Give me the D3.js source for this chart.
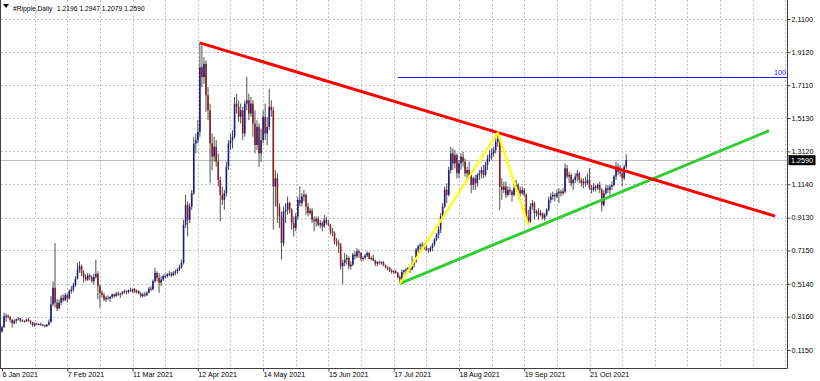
<!DOCTYPE html>
<html lang="en">
<head>
<meta charset="UTF-8">
<title>#Ripple,Daily</title>
<script src="https://d3js.org/d3.v7.min.js"></script>
<style>
  body { margin: 0; background: #fff; }
  svg text { font-family: "Liberation Sans", Arial, sans-serif; font-size: 7.2px; }
  svg text.title { font-size: 6.7px; }
</style>
</head>
<body>
<svg id="chart" width="820" height="381"></svg>
<script>
// daily bars, [open, high, low, close], first bar = 6 Jan 2021
const startDate = "2021-01-06";
const jan = [
  [0.226,0.260,0.220,0.252],[0.252,0.340,0.248,0.318],[0.318,0.335,0.285,0.322],[0.322,0.330,0.305,0.313],
  [0.313,0.320,0.280,0.298],[0.298,0.300,0.250,0.276],[0.276,0.300,0.270,0.291],[0.291,0.305,0.275,0.300],
  [0.300,0.312,0.292,0.305],[0.305,0.308,0.282,0.292],[0.292,0.300,0.285,0.290],[0.290,0.295,0.280,0.288],
  [0.288,0.305,0.285,0.298],[0.298,0.310,0.285,0.290],[0.290,0.295,0.270,0.282],[0.282,0.285,0.255,0.265],
  [0.265,0.280,0.255,0.275],[0.275,0.280,0.265,0.270],[0.270,0.275,0.265,0.272],[0.272,0.280,0.262,0.268],
  [0.268,0.272,0.258,0.265],[0.265,0.268,0.250,0.258],[0.258,0.272,0.255,0.268],[0.268,0.300,0.262,0.285],
  [0.285,0.440,0.280,0.390],[0.390,0.530,0.380,0.490]
];
const feb = [
  [0.490,0.760,0.370,0.400],[0.400,0.420,0.350,0.365],[0.365,0.420,0.360,0.400],[0.400,0.445,0.385,0.430],
  [0.430,0.450,0.405,0.415],[0.415,0.460,0.410,0.445],[0.445,0.455,0.400,0.425],[0.425,0.480,0.420,0.470],
  [0.470,0.500,0.455,0.480],[0.480,0.520,0.465,0.505],[0.505,0.560,0.495,0.545],[0.545,0.640,0.540,0.600],
  [0.600,0.650,0.580,0.620],[0.620,0.630,0.560,0.580],[0.580,0.595,0.520,0.555],[0.555,0.570,0.530,0.540],
  [0.540,0.580,0.530,0.565],[0.565,0.575,0.535,0.555],[0.555,0.565,0.520,0.530],[0.530,0.575,0.510,0.555],
  [0.555,0.660,0.545,0.575],[0.575,0.590,0.420,0.500],[0.500,0.510,0.370,0.460],[0.460,0.475,0.430,0.445],
  [0.445,0.460,0.410,0.420],[0.420,0.440,0.405,0.430],[0.430,0.445,0.420,0.425],[0.425,0.440,0.405,0.435]
];
const mar = [
  [0.435,0.455,0.425,0.450],[0.450,0.455,0.430,0.440],[0.440,0.465,0.435,0.455],[0.455,0.470,0.440,0.450],
  [0.450,0.460,0.430,0.455],[0.455,0.470,0.445,0.465],[0.465,0.480,0.455,0.470],[0.470,0.475,0.450,0.465],
  [0.465,0.480,0.455,0.475],[0.475,0.490,0.465,0.470],[0.470,0.485,0.460,0.480],[0.480,0.490,0.460,0.465],
  [0.465,0.480,0.455,0.470],[0.470,0.475,0.450,0.455],[0.455,0.465,0.430,0.440],[0.440,0.460,0.430,0.450],
  [0.450,0.465,0.435,0.445],[0.445,0.470,0.440,0.460],[0.460,0.495,0.455,0.485],[0.485,0.500,0.470,0.480],
  [0.480,0.540,0.475,0.530],[0.530,0.610,0.520,0.580],[0.580,0.590,0.530,0.550],[0.550,0.580,0.460,0.520],
  [0.520,0.560,0.500,0.540],[0.540,0.570,0.530,0.560],[0.560,0.575,0.545,0.560],[0.560,0.580,0.550,0.570],
  [0.570,0.590,0.560,0.575],[0.575,0.585,0.555,0.565],[0.565,0.590,0.560,0.580]
];
const apr = [
  [0.580,0.600,0.565,0.590],[0.590,0.610,0.575,0.600],[0.600,0.630,0.590,0.615],[0.615,0.660,0.605,0.640],
  [0.640,0.900,0.630,0.870],[0.870,1.050,0.850,0.990],[0.990,1.010,0.800,0.900],[0.900,1.000,0.880,0.980],
  [0.980,1.080,0.960,1.060],[1.060,1.400,1.050,1.360],[1.360,1.420,1.300,1.380],[1.380,1.500,1.360,1.430],
  [1.430,1.970,1.400,1.820],[1.820,1.950,1.700,1.760],[1.760,1.880,1.720,1.840],[1.840,1.860,1.550,1.650],
  [1.650,1.700,1.500,1.560],[1.560,1.600,1.120,1.360],[1.360,1.420,1.200,1.280],[1.280,1.400,1.250,1.340],
  [1.340,1.380,1.220,1.250],[1.250,1.300,1.100,1.140],[1.140,1.160,0.890,1.050],[1.050,1.100,0.990,1.020],
  [1.020,1.080,0.960,1.060],[1.060,1.250,1.040,1.220],[1.220,1.380,1.200,1.360],[1.360,1.420,1.320,1.380],
  [1.380,1.440,1.330,1.400],[1.400,1.640,1.390,1.600]
];
const may = [
  [1.600,1.660,1.540,1.580],[1.580,1.620,1.490,1.520],[1.520,1.600,1.480,1.560],[1.560,1.580,1.380,1.420],
  [1.420,1.620,1.400,1.600],[1.600,1.760,1.560,1.620],[1.620,1.660,1.500,1.540],[1.540,1.640,1.520,1.600],
  [1.600,1.620,1.400,1.480],[1.480,1.560,1.300,1.350],[1.350,1.500,1.320,1.460],[1.460,1.480,1.220,1.300],
  [1.300,1.450,1.250,1.380],[1.380,1.560,1.360,1.520],[1.520,1.600,1.380,1.420],[1.420,1.520,1.350,1.460],
  [1.460,1.690,1.440,1.580],[1.580,1.620,1.520,1.560],[1.560,1.580,0.840,1.100],[1.100,1.200,0.980,1.150],
  [1.150,1.180,0.880,0.980],[0.980,1.000,0.850,0.920],[0.920,0.950,0.660,0.760],[0.760,0.980,0.740,0.950],
  [0.950,1.000,0.880,0.960],[0.960,1.040,0.930,1.000],[1.000,1.010,0.940,0.960],[0.960,0.970,0.840,0.880],
  [0.880,0.920,0.800,0.850],[0.850,0.940,0.830,0.920],[0.920,1.040,0.900,1.020]
];
const jun = [
  [1.020,1.100,0.980,1.000],[1.000,1.060,0.980,1.040],[1.040,1.080,1.010,1.050],[1.050,1.060,0.930,0.980],
  [0.980,1.000,0.920,0.940],[0.940,0.970,0.930,0.955],[0.955,0.970,0.880,0.900],[0.900,0.920,0.830,0.890],
  [0.890,0.920,0.860,0.905],[0.905,0.920,0.860,0.870],[0.870,0.900,0.850,0.880],[0.880,0.890,0.830,0.860],
  [0.860,0.930,0.850,0.900],[0.900,0.920,0.870,0.880],[0.880,0.900,0.860,0.870],[0.870,0.875,0.810,0.830],
  [0.830,0.850,0.800,0.820],[0.820,0.830,0.750,0.770],[0.770,0.790,0.740,0.760],[0.760,0.780,0.700,0.750],
  [0.750,0.760,0.600,0.620],[0.620,0.660,0.510,0.640],[0.640,0.700,0.620,0.660],[0.660,0.690,0.630,0.670],
  [0.670,0.680,0.600,0.620],[0.620,0.650,0.600,0.630],[0.630,0.700,0.620,0.690],[0.690,0.710,0.660,0.680],
  [0.680,0.730,0.670,0.710],[0.710,0.720,0.670,0.700]
];
const jul = [
  [0.700,0.705,0.650,0.665],[0.665,0.680,0.650,0.670],[0.670,0.695,0.660,0.685],[0.685,0.710,0.675,0.700],
  [0.700,0.705,0.660,0.665],[0.665,0.680,0.655,0.670],[0.670,0.690,0.650,0.655],[0.655,0.660,0.620,0.635],
  [0.635,0.650,0.620,0.645],[0.645,0.655,0.630,0.640],[0.640,0.650,0.630,0.645],[0.645,0.650,0.620,0.625],
  [0.625,0.630,0.605,0.615],[0.615,0.620,0.595,0.610],[0.610,0.615,0.585,0.595],[0.595,0.605,0.575,0.585],
  [0.585,0.595,0.575,0.590],[0.590,0.600,0.575,0.580],[0.580,0.585,0.545,0.555],[0.555,0.565,0.515,0.540],
  [0.540,0.600,0.530,0.585],[0.585,0.600,0.570,0.595],[0.595,0.610,0.580,0.600],[0.600,0.615,0.590,0.610],
  [0.610,0.620,0.580,0.600],[0.600,0.680,0.595,0.630],[0.630,0.660,0.610,0.650],[0.650,0.730,0.640,0.720],
  [0.720,0.750,0.700,0.740],[0.740,0.760,0.710,0.750],[0.750,0.765,0.720,0.745]
];
const aug = [
  [0.745,0.760,0.720,0.735],[0.735,0.745,0.710,0.720],[0.720,0.730,0.700,0.715],[0.715,0.740,0.705,0.730],
  [0.730,0.760,0.710,0.750],[0.750,0.790,0.740,0.780],[0.780,0.820,0.770,0.810],[0.810,0.860,0.790,0.840],
  [0.840,0.940,0.820,0.920],[0.920,1.000,0.900,0.980],[0.980,1.100,0.970,1.080],[1.080,1.120,1.000,1.050],
  [1.050,1.220,1.040,1.200],[1.200,1.340,1.180,1.300],[1.300,1.330,1.200,1.240],[1.240,1.320,1.210,1.290],
  [1.290,1.300,1.150,1.180],[1.180,1.260,1.150,1.240],[1.240,1.300,1.200,1.280],[1.280,1.310,1.220,1.250],
  [1.250,1.270,1.160,1.180],[1.180,1.220,1.140,1.200],[1.200,1.250,1.160,1.170],[1.170,1.180,1.060,1.110],
  [1.110,1.160,1.080,1.150],[1.150,1.170,1.080,1.120],[1.120,1.180,1.100,1.170],[1.170,1.200,1.140,1.180],
  [1.180,1.220,1.150,1.200],[1.200,1.230,1.150,1.170],[1.170,1.250,1.160,1.230]
];
const sep = [
  [1.230,1.290,1.200,1.270],[1.270,1.320,1.250,1.290],[1.290,1.330,1.260,1.300],[1.300,1.340,1.280,1.320],
  [1.320,1.390,1.300,1.370],[1.370,1.420,1.340,1.390],[1.390,1.400,0.960,1.100],[1.100,1.150,1.020,1.080],
  [1.080,1.130,1.060,1.100],[1.100,1.130,1.030,1.050],[1.050,1.100,1.040,1.080],[1.080,1.100,1.050,1.070],
  [1.070,1.080,1.010,1.050],[1.050,1.120,1.040,1.090],[1.090,1.140,1.080,1.110],[1.110,1.120,1.060,1.080],
  [1.080,1.100,1.040,1.060],[1.060,1.100,1.050,1.080],[1.080,1.090,1.040,1.050],[1.050,1.060,0.900,0.920],
  [0.920,0.960,0.870,0.890],[0.890,1.000,0.880,0.980],[0.980,1.020,0.960,1.000],[1.000,1.010,0.900,0.940],
  [0.940,0.960,0.920,0.950],[0.950,0.970,0.900,0.930],[0.930,0.960,0.920,0.940],[0.940,0.945,0.900,0.910],
  [0.910,0.940,0.895,0.930],[0.930,0.970,0.920,0.960]
];
const oct = [
  [0.960,1.040,0.950,1.020],[1.020,1.060,1.000,1.040],[1.040,1.070,1.020,1.050],[1.050,1.060,1.010,1.040],
  [1.040,1.080,1.030,1.060],[1.060,1.090,1.000,1.070],[1.070,1.080,1.040,1.060],[1.060,1.090,1.050,1.070],
  [1.070,1.240,1.060,1.210],[1.210,1.230,1.150,1.160],[1.160,1.190,1.120,1.170],[1.170,1.180,1.100,1.120],
  [1.120,1.150,1.080,1.140],[1.140,1.180,1.120,1.160],[1.160,1.200,1.130,1.180],[1.180,1.190,1.120,1.140],
  [1.140,1.150,1.100,1.120],[1.120,1.150,1.090,1.130],[1.130,1.160,1.100,1.120],[1.120,1.180,1.110,1.140],
  [1.140,1.210,1.080,1.090],[1.090,1.110,1.060,1.080],[1.080,1.120,1.070,1.100],[1.100,1.110,1.070,1.090],
  [1.090,1.120,1.080,1.110],[1.110,1.130,1.060,1.080],[1.080,1.090,0.950,0.990],[0.990,1.080,0.980,1.060],
  [1.060,1.110,1.050,1.090],[1.090,1.110,1.060,1.080],[1.080,1.110,1.050,1.100]
];
const nov = [
  [1.100,1.130,1.080,1.110],[1.110,1.170,1.100,1.160],[1.160,1.250,1.140,1.220],[1.220,1.240,1.170,1.190],
  [1.190,1.230,1.160,1.180],[1.180,1.200,1.100,1.150],[1.150,1.230,1.140,1.220],[1.2196,1.2947,1.2079,1.2590]
];

// drawn objects
const redLine = [["2021-04-13", 1.966], ["2022-01-20", 0.922]];
const greenLine = [["2021-07-20", 0.515], ["2022-01-17", 1.437]];
const yellowLine = [["2021-07-20", 0.515], ["2021-09-06", 1.425], ["2021-09-21", 0.868]];
const blueLevel = { from: "2021-07-19", price: 1.761, label: "100" };
const bidPrice = 1.2590;

// axis labels
const yTickValues = [2.1100, 1.9120, 1.7110, 1.5130, 1.3120, 1.1140, 0.9130, 0.7150, 0.5140, 0.3160, 0.1150];
const xTickDates = ["2021-01-06", "2021-02-07", "2021-03-11", "2021-04-12", "2021-05-14",
                    "2021-06-15", "2021-07-17", "2021-08-18", "2021-09-19", "2021-10-21"];
const titleParts = ["#Ripple,Daily", "1.2196", "1.2947", "1.2079", "1.2590"];

const parse = d3.utcParse("%Y-%m-%d");
const start = parse(startDate);
const bars = [].concat(jan, feb, mar, apr, may, jun, jul, aug, sep, oct, nov)
  .map((r, i) => ({ date: d3.utcDay.offset(start, i), o: r[0], h: r[1], l: r[2], c: r[3] }));

const plotRight = 787, plotBottom = 368;
const barStep = 2.04;
const totalDays = 385;

const svg = d3.select('#chart');

const x = d3.scaleUtc()
  .domain([start, d3.utcDay.offset(start, totalDays)])
  .range([2, 2 + totalDays * barStep]);

const y = d3.scaleLinear()
  .domain([0.115, 2.11])
  .range([350, 19]);

svg.append('defs').append('clipPath').attr('id', 'plot')
  .append('rect').attr('x', 1).attr('y', 0).attr('width', plotRight - 1).attr('height', plotBottom);

// grid
const grid = svg.append('g').attr('stroke', '#c4c4c4').attr('stroke-dasharray', '2,2').attr('stroke-width', 1);
grid.selectAll('.hg').data(yTickValues).enter().append('line')
  .attr('x1', 1).attr('x2', plotRight)
  .attr('y1', d => Math.round(y(d)) + 0.5).attr('y2', d => Math.round(y(d)) + 0.5);
grid.selectAll('.vg').data(d3.range(16, totalDays, 16).map(k => d3.utcDay.offset(start, k))).enter().append('line')
  .attr('x1', d => Math.round(x(d)) + 0.5).attr('x2', d => Math.round(x(d)) + 0.5)
  .attr('y1', 0).attr('y2', plotBottom);

const plot = svg.append('g').attr('clip-path', 'url(#plot)');

// bid line
plot.append('line')
  .attr('x1', 0).attr('x2', plotRight)
  .attr('y1', Math.round(y(bidPrice)) + 0.5).attr('y2', Math.round(y(bidPrice)) + 0.5)
  .attr('stroke', '#bdbdbd').attr('stroke-width', 1);

// candles
const candle = plot.selectAll('.candle').data(bars).enter().append('g').attr('class', 'candle');
candle.append('line')
  .attr('x1', d => x(d.date)).attr('x2', d => x(d.date))
  .attr('y1', d => y(d.h)).attr('y2', d => y(d.l))
  .attr('stroke', '#3c3c3c').attr('stroke-width', 0.9);
candle.append('rect')
  .attr('x', d => x(d.date) - 0.8)
  .attr('width', 1.6)
  .attr('y', d => y(Math.max(d.o, d.c)))
  .attr('height', d => Math.max(1, Math.abs(y(d.o) - y(d.c))))
  .attr('fill', d => d.c >= d.o ? '#1c1c86' : '#8e1c1c');

// trend objects
const line = d3.line().x(d => x(parse(d[0]))).y(d => y(d[1]));

plot.append('line')
  .attr('x1', x(parse(blueLevel.from))).attr('x2', plotRight)
  .attr('y1', Math.round(y(blueLevel.price)) + 0.5).attr('y2', Math.round(y(blueLevel.price)) + 0.5)
  .attr('stroke', '#1a1aff').attr('stroke-width', 1.2);
svg.append('text')
  .attr('x', plotRight - 1).attr('y', Math.round(y(blueLevel.price)) - 2)
  .attr('text-anchor', 'end').attr('fill', '#1a1aff')
  .text(blueLevel.label);

plot.append('path').datum(greenLine).attr('d', line)
  .attr('fill', 'none').attr('stroke', '#32cd32').attr('stroke-width', 3);
plot.append('path').datum(redLine).attr('d', line)
  .attr('fill', 'none').attr('stroke', '#ff0000').attr('stroke-width', 3);
plot.append('path').datum(yellowLine).attr('d', line)
  .attr('fill', 'none').attr('stroke', '#ffff00').attr('stroke-width', 2.2)
  .attr('stroke-linejoin', 'miter');

// frame
svg.append('line').attr('x1', 0.5).attr('x2', 0.5).attr('y1', 0).attr('y2', plotBottom + 0.5)
  .attr('stroke', '#404040');
svg.append('line').attr('x1', plotRight + 0.5).attr('x2', plotRight + 0.5).attr('y1', 0).attr('y2', plotBottom + 0.5)
  .attr('stroke', '#404040');
svg.append('line').attr('x1', 0).attr('x2', plotRight + 0.5).attr('y1', plotBottom + 0.5).attr('y2', plotBottom + 0.5)
  .attr('stroke', '#404040');

// price axis
const yAxis = svg.append('g')
  .attr('transform', `translate(${plotRight + 0.5},0)`)
  .call(d3.axisRight(y).tickValues(yTickValues).tickFormat(d3.format('.4f')).tickSize(3).tickPadding(1));
yAxis.select('.domain').remove();
yAxis.selectAll('line').attr('stroke', '#404040');
yAxis.selectAll('text').attr('font-size', null).attr('font-family', null).attr('fill', '#000');

// current price box
const bidY = y(bidPrice);
svg.append('rect').attr('x', plotRight + 1.5).attr('y', bidY - 5).attr('width', 27).attr('height', 10).attr('fill', '#000');
svg.append('text').attr('x', plotRight + 4).attr('y', bidY).attr('dy', '0.34em')
  .attr('fill', '#fff').text(d3.format('.4f')(bidPrice));

// time axis
const xAxis = svg.append('g')
  .attr('transform', `translate(0,${plotBottom + 0.5})`)
  .call(d3.axisBottom(x).tickValues(xTickDates.map(parse))
    .tickFormat(d3.utcFormat('%-d %b %Y')).tickSize(3).tickPadding(0));
xAxis.select('.domain').remove();
xAxis.selectAll('line').attr('stroke', '#404040');
xAxis.selectAll('text').attr('font-size', null).attr('font-family', null)
  .attr('fill', '#000').attr('text-anchor', 'start');

// title
svg.append('path').attr('d', 'M3,4 L9,4 L6,8 Z').attr('fill', '#000');
svg.selectAll('.title').data(titleParts).enter().append('text')
  .attr('class', 'title')
  .attr('x', (d, i) => i === 0 ? 13 : 57 + (i - 1) * 22.4)
  .attr('y', 11)
  .attr('fill', '#000')
  .text(d => d);
</script>
</body>
</html>
